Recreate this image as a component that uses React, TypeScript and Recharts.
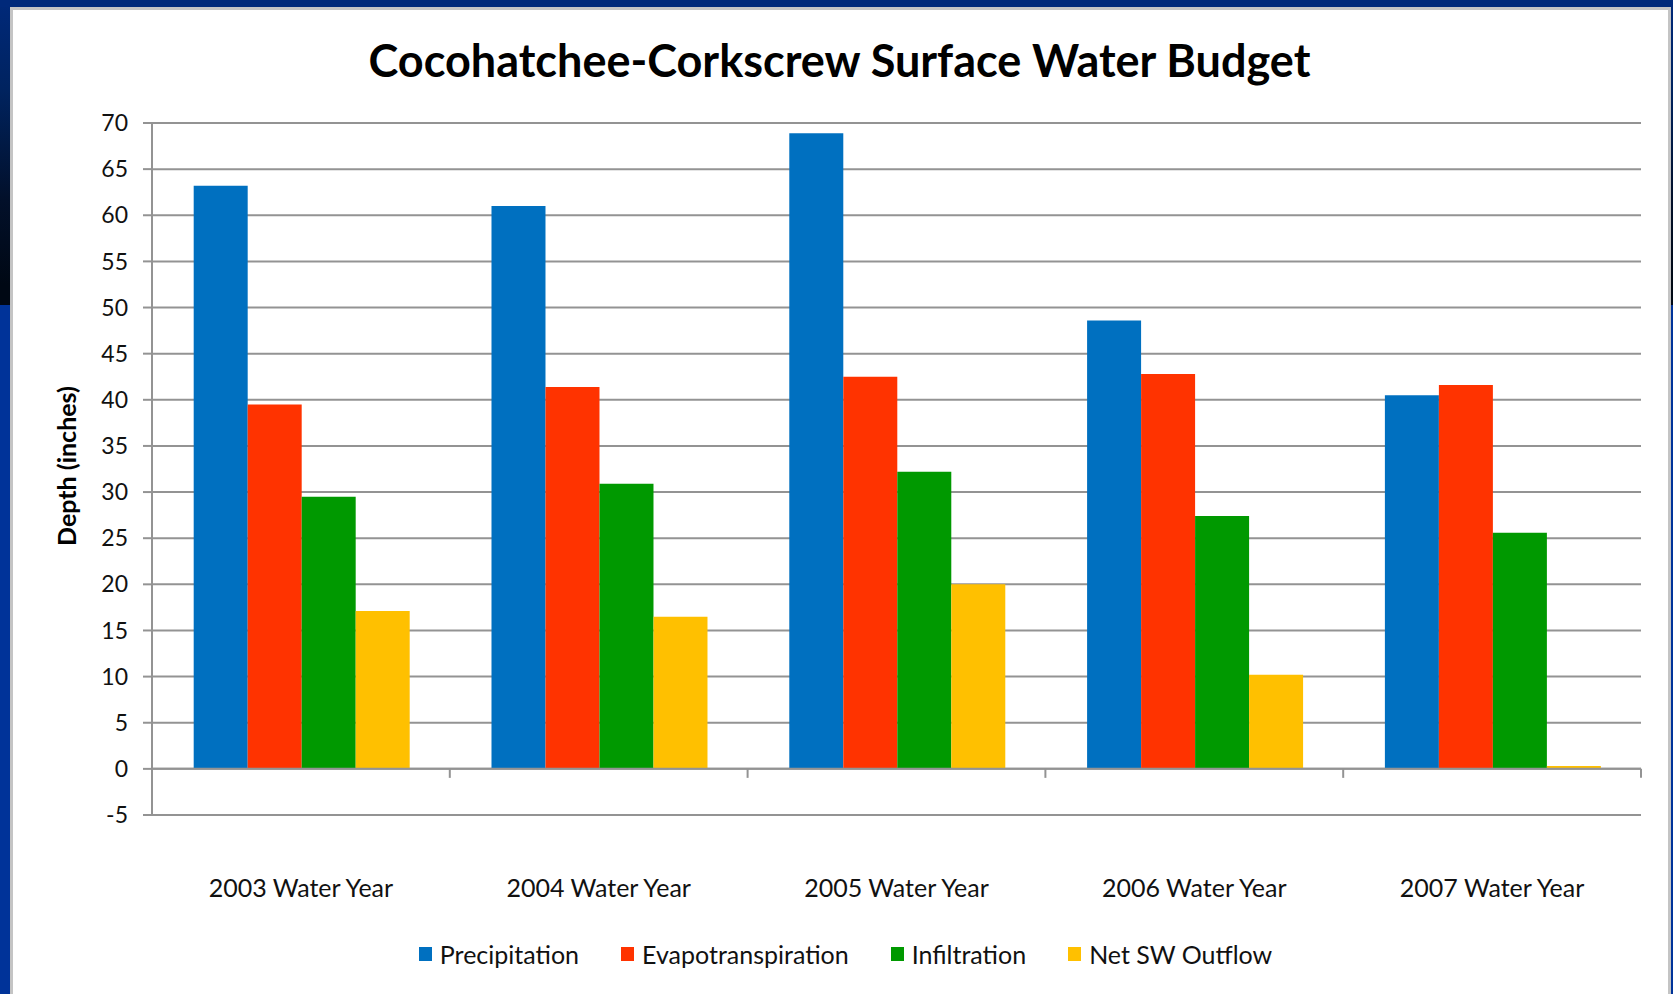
import React from "react";
import {
  BarChart,
  Bar,
  XAxis,
  YAxis,
  CartesianGrid,
  ReferenceLine,
  Legend,
  Label,
} from "recharts";

const CATEGORIES = [
  "2003 Water Year",
  "2004 Water Year",
  "2005 Water Year",
  "2006 Water Year",
  "2007 Water Year",
];
const PRECIPITATION = [63.2, 61.0, 68.9, 48.6, 40.5];
const EVAPOTRANSPIRATION = [39.5, 41.4, 42.5, 42.8, 41.6];
const INFILTRATION = [29.5, 30.9, 32.2, 27.4, 25.6];
const NET_SW_OUTFLOW = [17.1, 16.5, 20.0, 10.2, 0.3];
const Y_TICKS = [-5, 0, 5, 10, 15, 20, 25, 30, 35, 40, 45, 50, 55, 60, 65, 70];

const SERIES = [
  { key: "precipitation", name: "Precipitation", fill: "#0070c0", values: PRECIPITATION },
  { key: "evapotranspiration", name: "Evapotranspiration", fill: "#ff3300", values: EVAPOTRANSPIRATION },
  { key: "infiltration", name: "Infiltration", fill: "#009900", values: INFILTRATION },
  { key: "outflow", name: "Net SW Outflow", fill: "#ffc000", values: NET_SW_OUTFLOW },
];

const data = CATEGORIES.map((name, i) => {
  const row: Record<string, string | number> = { name };
  SERIES.forEach((s) => {
    row[s.key] = s.values[i];
  });
  return row;
});

const FONT = "Lato, 'Open Sans', sans-serif";
const GRID = "#939393";

function CategoryTick(props: any) {
  const { x, y, payload } = props;
  return (
    <text
      x={x}
      y={y + 72}
      textAnchor="middle"
      dominantBaseline="central"
      fontFamily={FONT}
      fontSize={25}
      fill="#111"
    >
      {payload.value}
    </text>
  );
}

// zero line with the category boundary ticks hanging under it
function ZeroLine(props: any) {
  const { x1, y1, x2, y2 } = props;
  const step = (x2 - x1) / CATEGORIES.length;
  return (
    <g>
      <line x1={x1} y1={y1} x2={x2} y2={y2} stroke={GRID} strokeWidth={2} />
      {CATEGORIES.concat("").map((_, i) => (
        <line
          key={i}
          x1={x1 + i * step}
          x2={x1 + i * step}
          y1={y1}
          y2={y1 + 9}
          stroke={GRID}
          strokeWidth={2}
        />
      ))}
    </g>
  );
}

// legend in series order (recharts reorders the payload)
function LegendContent() {
  return (
    <div
      style={{
        display: "flex",
        justifyContent: "center",
        alignItems: "center",
        fontFamily: FONT,
        fontSize: 25,
        color: "#111",
      }}
    >
      {SERIES.map((s, i) => (
        <div
          key={s.key}
          style={{ display: "flex", alignItems: "center", marginLeft: i === 0 ? 0 : 42 }}
        >
          <span style={{ width: 13, height: 14, background: s.fill, marginRight: 8 }} />
          <span>{s.name}</span>
        </div>
      ))}
    </div>
  );
}

export default function App() {
  return (
    <div
      style={{
        position: "absolute",
        left: 0,
        top: 0,
        width: 1673,
        height: 994,
        overflow: "hidden",
        background:
          "linear-gradient(to bottom, #00297a 0px, #00235f 90px, #02102a 200px, #000814 285px, #000814 305px, #003399 305px, #003399 994px)",
      }}
    >
      <div
        style={{
          position: "absolute",
          left: 0,
          top: 0,
          width: 1673,
          height: 7,
          background: "#00297a",
        }}
      />
      <div
        style={{
          position: "absolute",
          left: 10,
          top: 7,
          width: 1661,
          height: 1000,
          background: "#fff",
          border: "3px solid #c4c4c4",
          boxSizing: "border-box",
        }}
      />
      <div
        style={{
          position: "absolute",
          left: 10,
          top: 35,
          width: 1659,
          textAlign: "center",
          fontFamily: FONT,
          fontWeight: 700,
          fontSize: 45,
          lineHeight: "50px",
          color: "#000",
        }}
      >
        Cocohatchee-Corkscrew Surface Water Budget
      </div>
      <div style={{ position: "absolute", left: 0, top: 0 }}>
        <BarChart
          width={1673}
          height={994}
          data={data}
          margin={{ top: 123, right: 32, bottom: 79, left: 40 }}
          barCategoryGap="14%"
          barGap={0}
        >
          <CartesianGrid vertical={false} stroke={GRID} strokeWidth={2} />
          <XAxis
            dataKey="name"
            axisLine={false}
            tickLine={false}
            tickSize={0}
            tickMargin={0}
            height={100}
            interval={0}
            tick={CategoryTick}
          />
          <YAxis
            width={112}
            domain={[-5, 70]}
            ticks={Y_TICKS}
            interval={0}
            allowDataOverflow
            axisLine={{ stroke: GRID, strokeWidth: 2 }}
            tickLine={{ stroke: GRID, strokeWidth: 2 }}
            tickSize={9}
            tickMargin={15}
            tick={{ fontFamily: FONT, fontSize: 23, fill: "#111" }}
          >
            <Label
              content={(p: any) => {
                const vb = p.viewBox;
                const cx = vb.x + 26;
                const cy = vb.y + vb.height / 2 - 3;
                return (
                  <text
                    x={cx}
                    y={cy}
                    transform={`rotate(-90, ${cx}, ${cy})`}
                    textAnchor="middle"
                    dominantBaseline="central"
                    fontFamily={FONT}
                    fontWeight={700}
                    fontSize={25}
                    fill="#000"
                  >
                    Depth (inches)
                  </text>
                );
              }}
            />
          </YAxis>
          {SERIES.map((s) => (
            <Bar
              key={s.key}
              dataKey={s.key}
              name={s.name}
              fill={s.fill}
              isAnimationActive={false}
            />
          ))}
          <ReferenceLine y={0} shape={ZeroLine} />
          <Legend
            layout="horizontal"
            verticalAlign="middle"
            align="center"
            content={LegendContent}
            wrapperStyle={{ top: 939, left: 9, width: 1673, height: 32 }}
          />
        </BarChart>
      </div>
    </div>
  );
}
